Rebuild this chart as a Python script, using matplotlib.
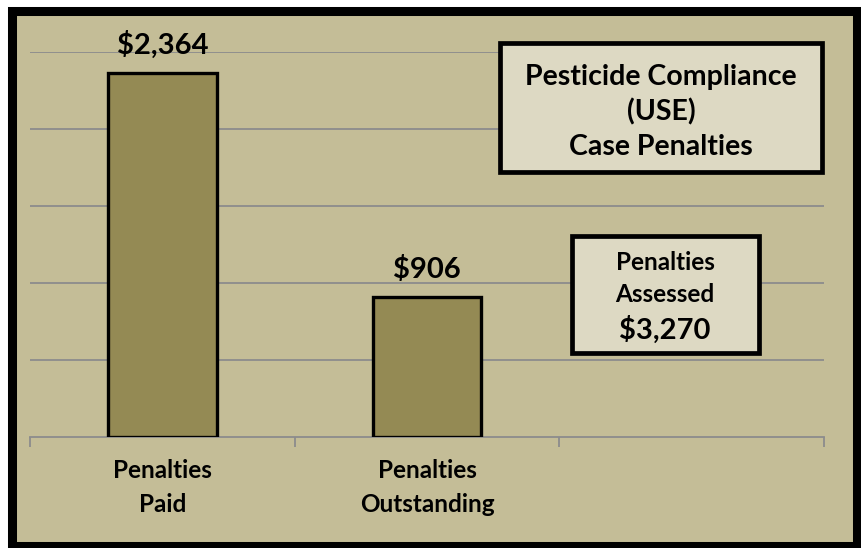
import matplotlib.pyplot as plt
from matplotlib.patches import Rectangle

# chart data
categories = ["Penalties\nPaid", "Penalties\nOutstanding", ""]
values = [2364, 906]
assessed = 3270
title_text = "Pesticide Compliance\n(USE)\nCase Penalties"

bg = "#C4BD97"
bar_color = "#948A54"
box_color = "#DDD9C3"
grid_color = "#8C8C8C"

W, H = 861, 548

plt.rcParams["font.family"] = ["Lato", "DejaVu Sans"]
plt.rcParams["font.weight"] = "bold"

fig = plt.figure(figsize=(W / 100, H / 100), dpi=100)
fig.patch.set_facecolor("white")


def px_rect(x0, y0, x1, y1, **kw):
    # rectangle in pixel coords (origin top-left)
    return Rectangle((x0 / W, 1 - y1 / H), (x1 - x0) / W, (y1 - y0) / H,
                     transform=fig.transFigure, **kw)


# black chart frame
fig.patches.append(px_rect(11.5, 10.5, 857, 546, facecolor=bg,
                           edgecolor="black", linewidth=6.5, zorder=0))

ax = fig.add_axes([30 / W, 1 - 437 / H, 794 / W, 385 / H])
ax.set_facecolor("none")
ax.set_zorder(2)

x = list(range(len(values)))
ax.bar(x, values, width=0.41, color=bar_color, edgecolor="black",
       linewidth=2.4, zorder=3)

for xi, v in zip(x, values):
    ax.annotate(f"${v:,}", (xi, v), xytext=(0, 28), textcoords="offset pixels",
                ha="center", va="center", fontsize=21, fontweight="bold")

ax.set_xlim(-0.5, len(categories) - 0.5)
ax.set_ylim(0, 2500)
ax.set_yticks([500, 1000, 1500, 2000, 2500])
ax.yaxis.grid(True, color=grid_color, linewidth=1.3)
ax.set_axisbelow(True)
ax.tick_params(axis="y", left=False, labelleft=False)

# tick marks at category boundaries, labels at centers
ax.set_xticks([i - 0.5 for i in range(len(categories) + 1)])
ax.set_xticklabels([])
ax.tick_params(axis="x", which="major", direction="out", length=7,
               color=grid_color, width=1.3)
ax.set_xticks(range(len(categories)), minor=True)
ax.set_xticklabels(categories, minor=True, fontsize=17.5, fontweight="bold",
                   linespacing=1.55)
ax.tick_params(axis="x", which="minor", length=0, pad=16)

for s in ["top", "right", "left"]:
    ax.spines[s].set_visible(False)
ax.spines["bottom"].set_color(grid_color)
ax.spines["bottom"].set_linewidth(1.3)

# title box
fig.patches.append(px_rect(500, 43, 822, 172, facecolor=box_color,
                           edgecolor="black", linewidth=3.4, zorder=3))
fig.text(661 / W, 1 - 112 / H, title_text, ha="center", va="center",
         fontsize=20.5, fontweight="bold", linespacing=1.4, zorder=4)

# assessed total box
fig.patches.append(px_rect(572, 236, 759, 353, facecolor=box_color,
                           edgecolor="black", linewidth=3.4, zorder=3))
fig.text(665 / W, 1 - 262 / H, "Penalties", ha="center", va="center",
         fontsize=17.5, fontweight="bold", zorder=4)
fig.text(665 / W, 1 - 294 / H, "Assessed", ha="center", va="center",
         fontsize=17.5, fontweight="bold", zorder=4)
fig.text(665 / W, 1 - 330 / H, f"${assessed:,}", ha="center", va="center",
         fontsize=21, fontweight="bold", zorder=4)

fig.savefig("out.png", dpi=100)
